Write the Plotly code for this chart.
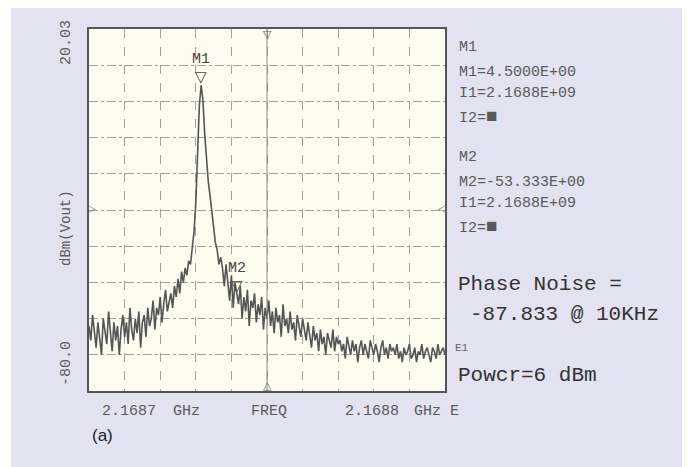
import plotly.graph_objects as go

# Spectrum analyser sweep: 201 points, 0.5 kHz apart, from -50 kHz to +50 kHz around centre
sweep_start_khz = -50
sweep_step_khz = 0.5
level_dbm = [
    -62, -66, -59, -64, -68, -61, -65, -70, -60, -63, -67, -58, -64, -69, -61, -66, -62, -70, -63, -59, -65,
    -61, -67, -57, -63, -66, -60, -64, -58, -68, -61, -59, -65, -57, -62,
    -60, -55, -63, -57, -59, -54, -61, -56, -52, -58, -55, -53,
    -57, -51, -54, -49, -53, -47, -50, -46, -48, -44, -45,
    -41, -36, -28, -14, -1, 4.5, 0.5, -9, -17, -22, -26, -30, -34, -39, -41, -45, -43,
    -46, -51, -45, -50, -55, -48, -57, -50, -53.3,
    -56, -51, -60, -54, -58, -52, -62, -55, -57, -53, -61, -56, -59, -54, -63, -57, -60,
    -55, -62, -58, -64, -57, -61, -59, -65, -56, -62, -60, -64, -58, -63, -61, -66, -59, -62, -65, -60,
    -63, -66, -61, -65, -68, -62, -66, -64, -69, -63, -67, -65, -70, -64, -66, -68, -63, -69, -65, -67,
    -66, -69, -67, -71, -65, -68, -70, -66, -69, -67, -72, -68, -66, -70, -67, -69, -71, -66, -68, -70,
    -67, -69, -72, -68, -66, -70, -68, -71, -67, -69,
    -68, -70, -67, -71, -69, -72, -68, -70, -69, -67, -71, -70, -68, -72, -69, -70, -67, -71, -69, -68,
    -70, -72, -68, -69, -71, -67, -70, -69, -68, -70,
]

# markers
marker_names = ["M1", "M2"]
marker_freq_khz = [-18.5, -8.5]
marker_level = [4.5, -53.3]

ref_level = 20.03
bottom_level = -79.97

sq = "<span style='font-size:19px'>■</span>"
readout_lines = ["M1", "M1=4.5000E+00", "I1=2.1688E+09", "I2=" + sq,
                 "M2", "M2=-53.333E+00", "I1=2.1688E+09", "I2=" + sq]
readout_y = [0.950, 0.881, 0.823, 0.757, 0.646, 0.577, 0.519, 0.453]

freq_labels = ["2.1687", "GHz", "FREQ", "2.1688", "GHz E"]
freq_label_x = [0.112, 0.275, 0.507, 0.794, 0.976]

mono = "Liberation Mono"
txt_col = "#5a5a5a"

fig = go.Figure()
fig.add_trace(go.Scatter(
    y=level_dbm, x0=sweep_start_khz, dx=sweep_step_khz,
    mode="lines", line=dict(color="#555555", width=1.6),
    showlegend=False, hoverinfo="skip"
))


def note(x, y, text, size, color=txt_col, family=mono, xref="paper", yref="paper",
         xanchor="center", yanchor="middle", **kw):
    return dict(x=x, y=y, xref=xref, yref=yref, text=text, showarrow=False,
                xanchor=xanchor, yanchor=yanchor,
                font=dict(family=family, size=size, color=color), **kw)


ann = []
# marker triangles and names
for name, fx, lv in zip(marker_names, marker_freq_khz, marker_level):
    ann.append(note(fx, lv, "▽", 15, "#444", "DejaVu Sans", "x", "y", yanchor="bottom", yshift=-3))
    ann.append(note(fx, lv, name, 15, "#444", mono, "x", "y", yanchor="bottom", yshift=15))

# edge reference markers
ann.append(note(0, 1, "▽", 11, "#666", "DejaVu Sans", "x", "paper", yanchor="top", yshift=3))
ann.append(note(0, 0, "△", 11, "#666", "DejaVu Sans", "x", "paper", yanchor="bottom", yshift=-3))
ann.append(note(0, 0.503, "▷", 11, "#666", "DejaVu Sans", xanchor="left", xshift=-4))
ann.append(note(1, 0.503, "◁", 11, "#666", "DejaVu Sans", xanchor="right", xshift=4))

# marker readout on the right
for t, yy in zip(readout_lines, readout_y):
    ann.append(note(1.034, yy, t, 15, xanchor="left"))

ann.append(note(1.031, 0.293, "Phase Noise =", 21, "#333", xanchor="left"))
ann.append(note(1.065, 0.210, "-87.833 @ 10KHz", 21, "#333", xanchor="left"))
ann.append(note(1.022, 0.119, "E1", 11, "#666", xanchor="left"))
ann.append(note(1.031, 0.044, "Powcr=6 dBm", 21, "#333", xanchor="left"))

# frequency labels under the grid
for t, xx in zip(freq_labels, freq_label_x):
    ann.append(note(xx, -0.058, t, 15))

# y-side labels (rotated)
ann.append(note(-0.065, 0.964, "20.03", 15, textangle=-90))
ann.append(note(-0.065, 0.077, "-80.0", 15, textangle=-90))
ann.append(note(-0.065, 0.450, "dBm(Vout)", 14, textangle=-90))

ann.append(note(0.037, -0.124, "(a)", 17, "#222", "Liberation Sans"))

shapes = [
    # lavender card behind everything
    dict(type="rect", xref="paper", yref="paper", x0=-0.219, x1=1.671, y0=-0.21, y1=1.072,
         fillcolor="#e2e2f0", line=dict(width=0), layer="below"),
    dict(type="rect", xref="paper", yref="paper", x0=0, x1=1, y0=0, y1=1,
         fillcolor="#fdfdef", line=dict(width=0), layer="below"),
    # centre frequency line
    dict(type="line", xref="x", yref="paper", x0=0, x1=0, y0=0, y1=1,
         line=dict(color="#8a8a8a", width=1)),
]

fig.update_layout(
    width=690, height=467,
    margin=dict(l=81, r=253, t=21, b=84),
    paper_bgcolor="white",
    plot_bgcolor="rgba(0,0,0,0)",
    annotations=ann,
    shapes=shapes,
    xaxis=dict(range=[-50, 50], dtick=10, tick0=0, showticklabels=False, ticks="",
               showgrid=True, gridcolor="#a0a0a0", griddash="dash", gridwidth=1,
               zeroline=False, showline=True, mirror=True, linecolor="#555", linewidth=1.5),
    yaxis=dict(range=[bottom_level, ref_level], dtick=10, tick0=ref_level, showticklabels=False, ticks="",
               showgrid=True, gridcolor="#a0a0a0", griddash="dashdot", gridwidth=1,
               zeroline=False, showline=True, mirror=True, linecolor="#555", linewidth=1.5),
)

fig.write_html("out.html")
